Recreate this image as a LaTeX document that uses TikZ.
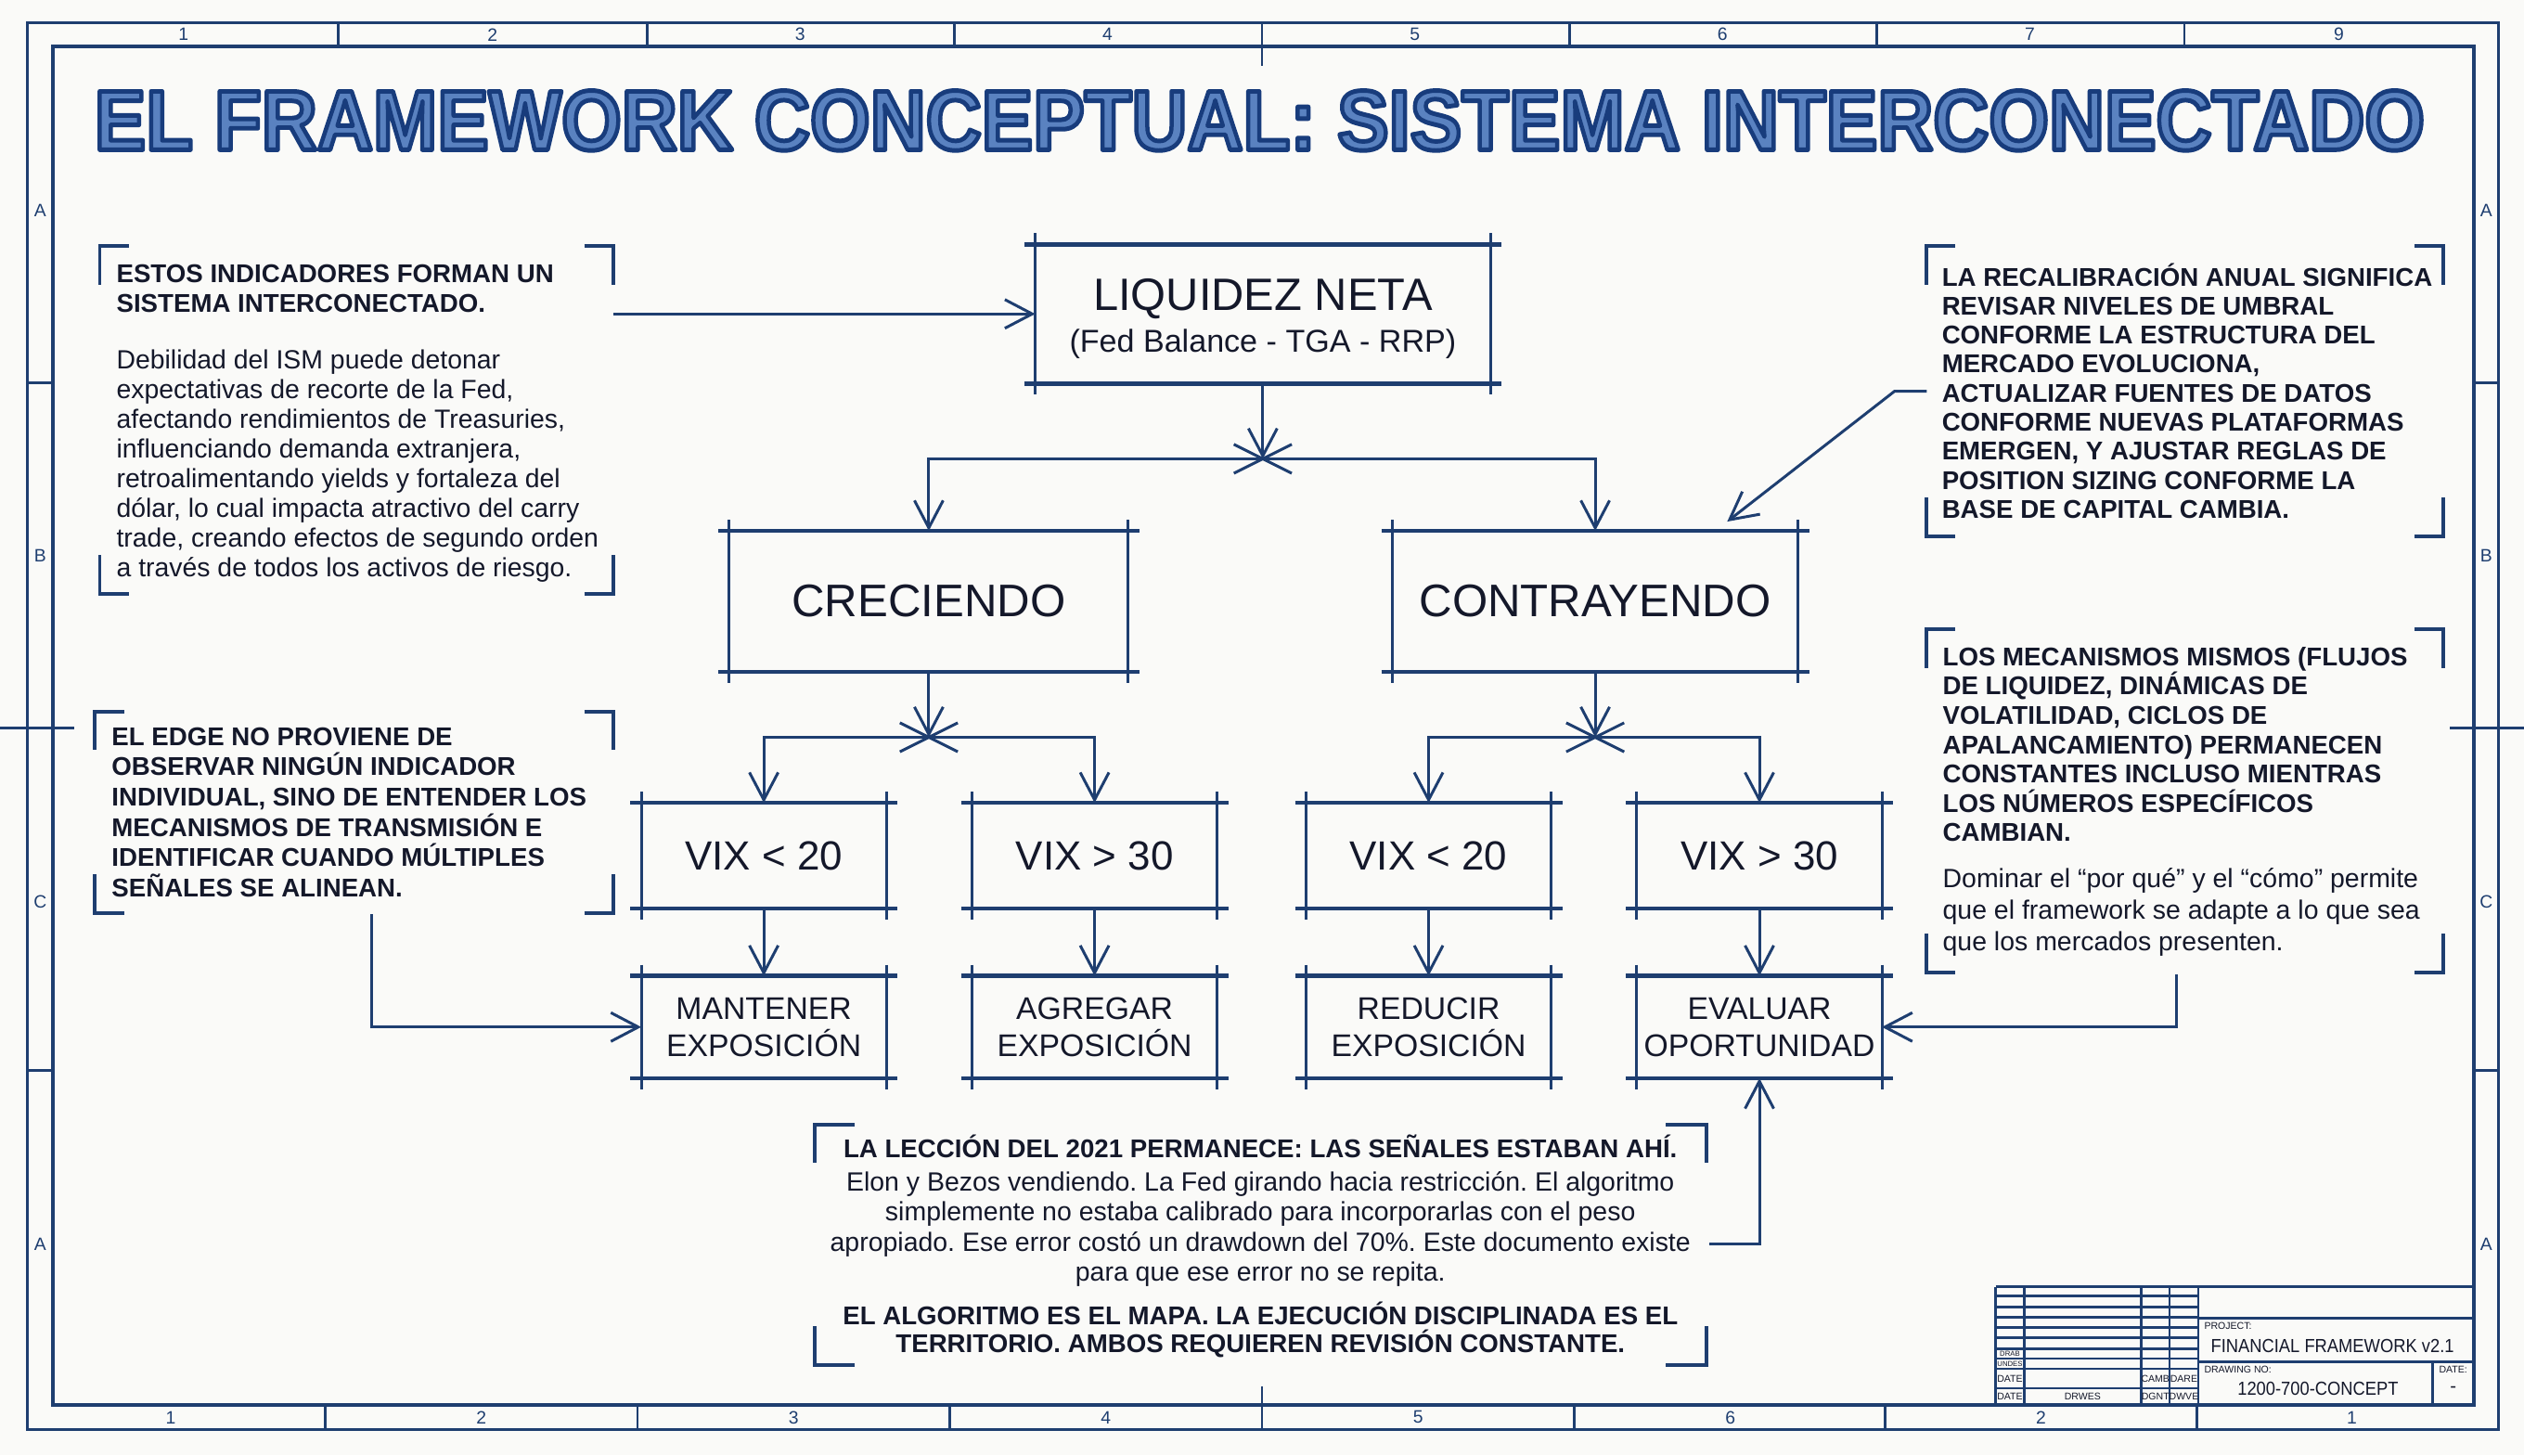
\documentclass[tikz,border=0pt]{standalone}
\usepackage{fontspec}
\setmainfont{Liberation Sans}
\usetikzlibrary{arrows.meta,calc}
\definecolor{ln}{RGB}{30,62,112}
\definecolor{tx}{RGB}{20,24,42}
\definecolor{ttfill}{RGB}{90,130,192}
\definecolor{paper}{RGB}{250,250,248}
\def\U{0.4918pt}
\frenchspacing
\newcommand\fs{\rule{0pt}{8pt}}
\newcommand\outlinetext[1]{\special{pdf:literal direct 2 Tr 1.4 w 1 j 0.094 0.235 0.486 RG}#1\special{pdf:literal direct 0 Tr 0 j}}
\newcommand\techbox[1]{%
  \draw[hl] ([xshift=-3.4pt]#1.north west) -- ([xshift=3.4pt]#1.north east);
  \draw[hl] ([xshift=-3.4pt]#1.south west) -- ([xshift=3.4pt]#1.south east);
  \draw[vl] ([yshift=3.4pt]#1.north west) -- ([yshift=-3.4pt]#1.south west);
  \draw[vl] ([yshift=3.4pt]#1.north east) -- ([yshift=-3.4pt]#1.south east);}
\newcommand\jx[1]{%
  \draw[plain] ($(#1)+(-18,-9)$) -- ($(#1)+(18,9)$);
  \draw[plain] ($(#1)+(-18,9)$) -- ($(#1)+(18,-9)$);}
\newcommand\brk[6]{%
  \draw[brk] (#1+#5,#2) -- (#1,#2) -- (#1,#2+#6);
  \draw[brk] (#3-#5,#2) -- (#3,#2) -- (#3,#2+#6);
  \draw[brk] (#1+#5,#4) -- (#1,#4) -- (#1,#4-#6);
  \draw[brk] (#3-#5,#4) -- (#3,#4) -- (#3,#4-#6);}
\tikzset{
  hl/.style={draw=ln, line width=1.3pt},
  vl/.style={draw=ln, line width=0.85pt},
  plain/.style={draw=ln, line width=0.85pt},
  conn/.style={draw=ln, line width=0.85pt, -{Straight Barb[length=8.4pt,width=8.8pt,line width=0.85pt]}},
  brk/.style={draw=ln, line width=1.1pt},
  box/.style={inner sep=0pt, text=tx},
  note/.style={inner sep=0pt, text=tx},
  band/.style={inner sep=0pt, text=ln, font=\fontsize{5.5}{6}\selectfont},
  tbl/.style={draw=ln, line width=0.8pt},
  tbt/.style={inner sep=0pt, text=tx},
}
\begin{document}
\begin{tikzpicture}[x=0.017347cm, y=-0.017347cm]
\fill[paper] (0,0) rectangle (1568,904);
\useasboundingbox (0,0) rectangle (1568,904);

% ---------- frame ----------
\draw[ln, line width=0.8pt] (17,14) rectangle (1552,888);
\draw[ln, line width=1.1pt] (33,29) rectangle (1537,873);
\foreach \x in {210,402,593,784,975,1166,1357} \draw[ln, line width=0.8pt] (\x,14) -- (\x,29);
\foreach \x in {202,396,590,784,978,1171,1365} \draw[ln, line width=0.8pt] (\x,873) -- (\x,888);
\foreach \y in {238,665} {\draw[ln, line width=0.8pt] (17,\y) -- (33,\y); \draw[ln, line width=0.8pt] (1537,\y) -- (1552,\y);}
\draw[ln, line width=0.8pt] (0,452) -- (46,452);
\draw[ln, line width=0.8pt] (1522,452) -- (1568,452);
\draw[ln, line width=0.8pt] (784,14) -- (784,41);
\draw[ln, line width=0.8pt] (784,861) -- (784,888);
\foreach \x/\t [count=\i] in {114/1,306/2,497/3,688/4,879/5,1070/6,1261/7,1453/9}
  \node[band] (tn\i) at (\x,21.5) {\t};
\foreach \x/\t [count=\i] in {106/1,299/2,493/3,687/4,881/5,1075/6,1268/2,1461/1}
  \node[band] (bn\i) at (\x,880.5) {\t};
\foreach \y/\t [count=\i] in {131/A,345/B,560/C,773/A} {
  \node[band] (ls\i) at (25,\y) {\t};
  \node[band] (rs\i) at (1544.5,\y) {\t};}

% ---------- title ----------
\node[inner sep=0pt, anchor=base, text=ttfill, font=\fontsize{26}{30}\selectfont\bfseries] (title) at (782.5,93)
  {\scalebox{0.91}[1]{\outlinetext{EL FRAMEWORK CONCEPTUAL: SISTEMA INTERCONECTADO}}};

% ---------- boxes ----------
\node[box, minimum width=283*\U, minimum height=86*\U] (liq) at (784.5,195) {};
\node[box, anchor=base, font=\fontsize{13.9}{16}\selectfont] (liqa) at (784.5,193) {LIQUIDEZ NETA};
\node[box, anchor=base, font=\fontsize{9.7}{12}\selectfont] (liqb) at (784.5,218.5) {(Fed Balance - TGA - RRP)};
\node[box, minimum width=248*\U, minimum height=87*\U, font=\fontsize{14}{16}\selectfont] (cre) at (577,373.5) {CRECIENDO};
\node[box, minimum width=252*\U, minimum height=87*\U, font=\fontsize{14}{16}\selectfont] (con) at (991,373.5) {CONTRAYENDO};
\foreach \n/\x/\t in {v1/474.5/{VIX < 20}, v2/680/{VIX > 30}, v3/887.5/{VIX < 20}, v4/1093/{VIX > 30}}
  \node[box, minimum width=152*\U, minimum height=65*\U, font=\fontsize{12.5}{14}\selectfont] (\n) at (\x,531.5) {\t};
\foreach \n/\x/\t in {a1/474.5/{MANTENER\\EXPOSICIÓN}, a2/680/{AGREGAR\\EXPOSICIÓN}, a3/887.5/{REDUCIR\\EXPOSICIÓN}, a4/1093/{EVALUAR\\OPORTUNIDAD}}
  \node[box, minimum width=152*\U, minimum height=63*\U, align=center, font=\fontsize{9.6}{11.3}\selectfont] (\n) at (\x,638) {\t};
\foreach \n in {liq,cre,con,v1,v2,v3,v4,a1,a2,a3,a4} {\techbox{\n}}

% ---------- tree connectors ----------
\coordinate (j1) at (784.5,285);
\coordinate (j2) at (577,458);
\coordinate (j3) at (991,458);
\draw[conn] (liq.south) -- (j1);
\draw[conn] (j1) -| (cre.north);
\draw[conn] (j1) -| (con.north);
\draw[conn] (cre.south) -- (j2);
\draw[conn] (j2) -| (v1.north);
\draw[conn] (j2) -| (v2.north);
\draw[conn] (con.south) -- (j3);
\draw[conn] (j3) -| (v3.north);
\draw[conn] (j3) -| (v4.north);
\jx{j1}\jx{j2}\jx{j3}
\foreach \i in {1,2,3,4} \draw[conn] (v\i.south) -- (a\i.north);

% ---------- notes ----------
\brk{62}{153}{381}{369}{18}{24}
\node[note, anchor=north west, align=left, font=\fontsize{7.87}{9.1}\selectfont\bfseries] (tlh) at (72,159)
  {\fs ESTOS INDICADORES FORMAN UN\\SISTEMA INTERCONECTADO.};
\node[note, anchor=north west, align=left, font=\fontsize{8.08}{9.1}\selectfont] (tlb) at (72,212.4)
  {\fs Debilidad del ISM puede detonar\\expectativas de recorte de la Fed,\\afectando rendimientos de Treasuries,\\influenciando demanda extranjera,\\retroalimentando yields y fortaleza del\\dólar, lo cual impacta atractivo del carry\\trade, creando efectos de segundo orden\\a través de todos los activos de riesgo.};

\brk{59}{442}{381}{567}{18}{24}
\node[note, anchor=north west, align=left, font=\fontsize{7.87}{9.3}\selectfont\bfseries] (edge) at (69,446.4)
  {\fs EL EDGE NO PROVIENE DE\\OBSERVAR NINGÚN INDICADOR\\INDIVIDUAL, SINO DE ENTENDER LOS\\MECANISMOS DE TRANSMISIÓN E\\IDENTIFICAR CUANDO MÚLTIPLES\\SEÑALES SE ALINEAN.};

\brk{1196.5}{153}{1518}{333}{18}{24}
\node[note, anchor=north west, align=left, font=\fontsize{7.87}{8.9}\selectfont\bfseries] (trn) at (1206,161)
  {\fs LA RECALIBRACIÓN ANUAL SIGNIFICA\\REVISAR NIVELES DE UMBRAL\\CONFORME LA ESTRUCTURA DEL\\MERCADO EVOLUCIONA,\\ACTUALIZAR FUENTES DE DATOS\\CONFORME NUEVAS PLATAFORMAS\\EMERGEN, Y AJUSTAR REGLAS DE\\POSITION SIZING CONFORME LA\\BASE DE CAPITAL CAMBIA.};

\brk{1196.5}{391}{1518}{604}{18}{24}
\node[note, anchor=north west, align=left, font=\fontsize{7.87}{8.98}\selectfont\bfseries] (mrh) at (1206.5,396.9)
  {\fs LOS MECANISMOS MISMOS (FLUJOS\\DE LIQUIDEZ, DINÁMICAS DE\\VOLATILIDAD, CICLOS DE\\APALANCAMIENTO) PERMANECEN\\CONSTANTES INCLUSO MIENTRAS\\LOS NÚMEROS ESPECÍFICOS\\CAMBIAN.};
\node[note, anchor=north west, align=left, font=\fontsize{8.1}{9.6}\selectfont] (mrb) at (1206.5,535)
  {\fs Dominar el “por qué” y el “cómo” permite\\que el framework se adapte a lo que sea\\que los mercados presenten.};

\brk{506}{698.5}{1060}{848}{25}{24}
\node[note, anchor=north, align=center, font=\fontsize{7.87}{9.1}\selectfont\bfseries] (bt1) at (783,702.4)
  {\fs LA LECCIÓN DEL 2021 PERMANECE: LAS SEÑALES ESTABAN AHÍ.};
\node[note, anchor=north, align=center, font=\fontsize{8.1}{9.18}\selectfont] (bt2) at (783,723.4)
  {\fs Elon y Bezos vendiendo. La Fed girando hacia restricción. El algoritmo\\simplemente no estaba calibrado para incorporarlas con el peso\\apropiado. Ese error costó un drawdown del 70\%. Este documento existe\\para que ese error no se repita.};
\node[note, anchor=north, align=center, font=\fontsize{7.87}{8.6}\selectfont\bfseries] (bt3) at (783,806.1)
  {\fs EL ALGORITMO ES EL MAPA. LA EJECUCIÓN DISCIPLINADA ES EL\\TERRITORIO. AMBOS REQUIEREN REVISIÓN CONSTANTE.};

% ---------- note connectors ----------
\coordinate (n1) at (381,195);
\draw[conn] (n1) -- (liq.west);
\coordinate (e1) at (231,568);
\draw[conn] (e1) |- (a1.west);
\coordinate (r1) at (1352,605);
\draw[conn] (r1) |- (a4.east);
\coordinate (b1) at (1062,773);
\draw[conn] (b1) -| (a4.south);
\coordinate (t1) at (1197,243);
\coordinate (t1b) at (1177,243);
\coordinate (t2) at (1073,324);
\draw[conn] (t1) -- (t1b) -- (t2);

% ---------- title block ----------
\draw[tbl, line width=1pt] (1239.8,799.4) -- (1537,799.4);
\draw[tbl, line width=1pt] (1239.8,799.4) -- (1239.8,873);
\foreach \x in {1257.4,1330.2,1347.8,1365.6} \draw[tbl] (\x,799.4) -- (\x,873);
\foreach \y in {805.1,811.8,818.2,824.7,831.1,837.8,843.9,850.3,862.4} \draw[tbl] (1239.8,\y) -- (1365.6,\y);
\draw[tbl] (1365.6,819) -- (1537,819);
\draw[tbl] (1365.6,845.9) -- (1537,845.9);
\draw[tbl] (1511,845.9) -- (1511,873);
\node[tbt, font=\fontsize{2.2}{2.5}\selectfont] (tb1) at (1248.6,840.9) {DRAB};
\node[tbt, font=\fontsize{2.2}{2.5}\selectfont] (tb2) at (1248.6,847.1) {UNDES};
\node[tbt, font=\fontsize{3}{3.5}\selectfont] (tb3) at (1248.6,856.3) {DATE};
\node[tbt, font=\fontsize{3}{3.5}\selectfont] (tb4) at (1339,856.3) {CAMB};
\node[tbt, font=\fontsize{3}{3.5}\selectfont] (tb5) at (1356.7,856.3) {DARE};
\node[tbt, font=\fontsize{3}{3.5}\selectfont] (tb6) at (1248.6,867.7) {DATE};
\node[tbt, font=\fontsize{3}{3.5}\selectfont] (tb7) at (1293.8,867.7) {DRWES};
\node[tbt, font=\fontsize{3}{3.5}\selectfont] (tb8) at (1339,867.7) {DGNT};
\node[tbt, font=\fontsize{3}{3.5}\selectfont] (tb9) at (1356.7,867.7) {DWVE};
\node[tbt, anchor=west, font=\fontsize{3}{3.5}\selectfont] (tbp) at (1369,823.5) {PROJECT:};
\node[tbt, font=\fontsize{5.8}{7}\selectfont] (tbpn) at (1449,836) {\scalebox{0.9}[1]{FINANCIAL FRAMEWORK v2.1}};
\node[tbt, anchor=west, font=\fontsize{3}{3.5}\selectfont] (tbd) at (1369,850.5) {DRAWING NO:};
\node[tbt, font=\fontsize{5.8}{7}\selectfont] (tbdn) at (1440,862.5) {\scalebox{0.9}[1]{1200-700-CONCEPT}};
\node[tbt, font=\fontsize{3}{3.5}\selectfont] (tbda) at (1524,850.5) {DATE:};
\node[tbt, font=\fontsize{5.8}{7}\selectfont] (tbdv) at (1524,863) {-};
\end{tikzpicture}
\end{document}
